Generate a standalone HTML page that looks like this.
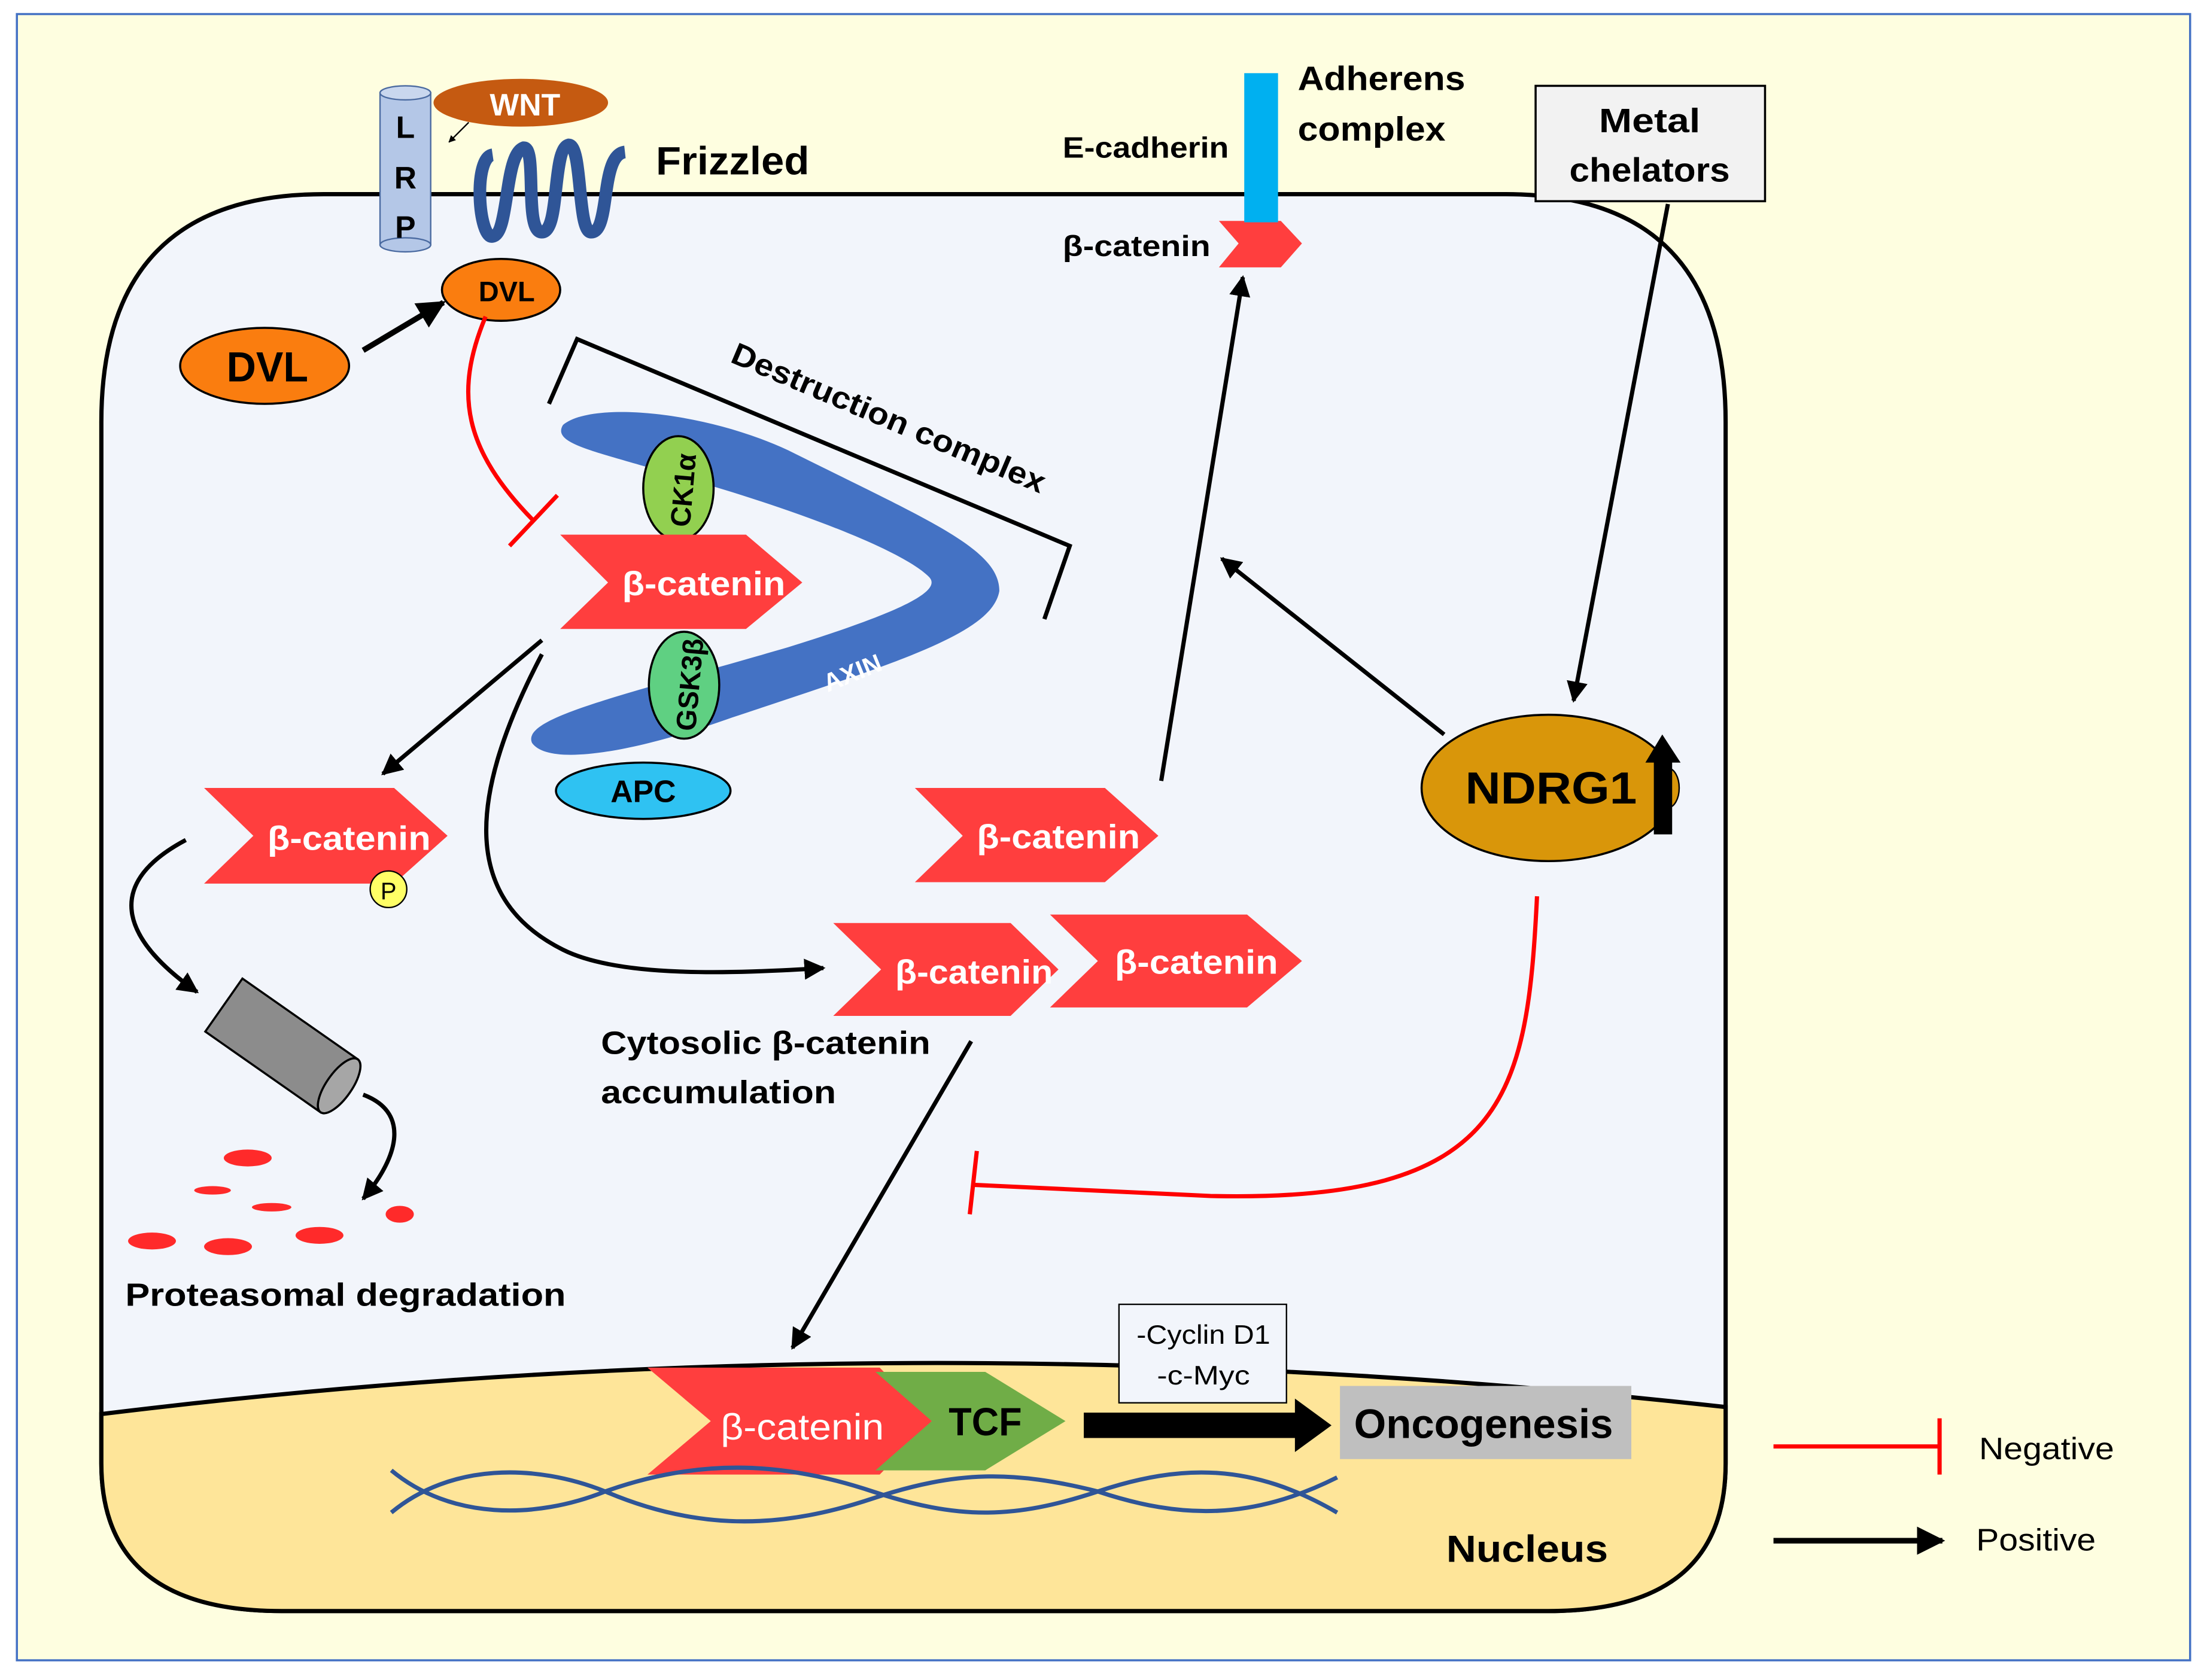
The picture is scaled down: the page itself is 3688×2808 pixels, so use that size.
<!DOCTYPE html>
<html><head><meta charset="utf-8"><style>
html,body{margin:0;padding:0;background:#fff}
svg{display:block}
text{font-family:"Liberation Sans",sans-serif;font-weight:bold}
text.n{font-weight:normal}
</style></head><body>
<svg width="3688" height="2808" viewBox="0 0 1568 1194" preserveAspectRatio="none" xmlns="http://www.w3.org/2000/svg">
<defs>
<marker id="ah" viewBox="0 0 10 10" refX="9" refY="5" markerWidth="5" markerHeight="5" orient="auto-start-reverse"><path d="M0,0L10,5L0,10z" fill="#000"/></marker>
</defs>
<rect x="0" y="0" width="1568" height="1194" fill="#fff"/>
<rect x="12" y="10" width="1544" height="1170" fill="#fefee0" stroke="#4472c4" stroke-width="1.5"/>
<path d="M72,1000 L72,300 Q72,138 230,138 L1070,138 Q1226,138 1226,300 L1226,1000 L1226,1040 Q1226,1145 1100,1145 L200,1145 Q72,1145 72,1040 Z" fill="#f2f5fb" stroke="#000" stroke-width="3"/>
<path d="M72,1005 Q640,935 1226,1000 L1226,1040 Q1226,1145 1100,1145 L200,1145 Q72,1145 72,1040 Z" fill="#fee599" stroke="#000" stroke-width="3"/>
<rect x="270" y="66" width="36" height="108" fill="#b4c7e7" stroke="#4a6aa0" stroke-width="1"/>
<ellipse cx="288" cy="66" rx="18" ry="5" fill="#c9d7ee" stroke="#4a6aa0"/>
<ellipse cx="288" cy="174" rx="18" ry="5" fill="#b4c7e7" stroke="#4a6aa0"/>
<text x="288" y="98" font-size="22" text-anchor="middle">L</text>
<text x="288" y="134" font-size="22" text-anchor="middle">R</text>
<text x="288" y="169" font-size="22" text-anchor="middle">P</text>
<ellipse cx="370" cy="73" rx="62" ry="17" fill="#c55a11"/>
<text x="373" y="82" font-size="22" fill="#fff" text-anchor="middle">WNT</text>
<line x1="333" y1="87" x2="319" y2="101" stroke="#000" stroke-width="1" marker-end="url(#ah)"/>
<path d="M350,110 C336,112 340,170 350,168 C362,166 358,110 372,105 C382,104 372,165 385,165 C398,165 392,106 404,103 C414,103 410,165 420,165 C434,165 426,110 444,108" fill="none" stroke="#2f5597" stroke-width="9"/>
<text x="466" y="124" font-size="28" textLength="109" lengthAdjust="spacingAndGlyphs">Frizzled</text>
<ellipse cx="356" cy="206" rx="42" ry="22" fill="#fa7d0f" stroke="#000" stroke-width="1.5"/>
<text x="360" y="214" font-size="20" text-anchor="middle">DVL</text>
<ellipse cx="188" cy="260" rx="60" ry="27" fill="#fa7d0f" stroke="#000" stroke-width="1.5"/>
<text x="190" y="271" font-size="30" text-anchor="middle" textLength="58" lengthAdjust="spacingAndGlyphs">DVL</text>
<line x1="258" y1="249" x2="315" y2="215" stroke="#000" stroke-width="4" marker-end="url(#ah)"/>
<path d="M345,225 C322,280 330,320 379,370" fill="none" stroke="#f00" stroke-width="3"/>
<line x1="362" y1="388" x2="396" y2="352" stroke="#f00" stroke-width="3"/>
<path d="M390,287 L410,241 L760,388 L742,440" fill="none" stroke="#000" stroke-width="3"/>
<text x="0" y="0" font-size="22" textLength="240" lengthAdjust="spacingAndGlyphs" transform="translate(518,257) rotate(23)">Destruction complex</text>
<path d="M400,302 C420,285 500,292 560,320 C660,370 710,390 710,420 C705,450 640,470 520,510 C450,535 390,545 378,528 C370,510 440,495 560,460 C640,435 670,420 660,410 C640,390 560,360 470,335 C420,320 392,315 400,302 Z" fill="#4472c4"/>
<text x="0" y="0" font-size="18" fill="#fff" transform="translate(588,492) rotate(-22)">AXIN</text>
<ellipse cx="482" cy="347" rx="25" ry="37" fill="#92d050" stroke="#000" stroke-width="1.5"/>
<text x="0" y="0" font-size="20" transform="translate(490,375) rotate(-85)">CK1α</text>
<ellipse cx="486" cy="487" rx="25" ry="38" fill="#5fd082" stroke="#000" stroke-width="1.5"/>
<text x="0" y="0" font-size="20" textLength="66" lengthAdjust="spacingAndGlyphs" transform="translate(494,520) rotate(-85)">GSK3β</text>
<ellipse cx="457" cy="562" rx="62" ry="20" fill="#2fc2f2" stroke="#000" stroke-width="1.5"/>
<text x="457" y="570" font-size="22" text-anchor="middle">APC</text>
<g fill="#ff3e3e">
<polygon points="398,380 530,380 570,414 530,447 398,447 432,414"/>
<polygon points="145,560 280,560 318,594 280,628 145,628 180,594"/>
<polygon points="650,560 785,560 823,594 785,627 650,627 684,594"/>
<polygon points="592,656 718,656 752,689 718,722 592,722 626,689"/>
<polygon points="746,650 886,650 925,683 886,716 746,716 780,683"/>
<polygon points="866,157 910,157 925,173 910,190 866,190 880,173"/>
<polygon points="460,972 625,972 662,1010 625,1048 460,1048 505,1010"/>
</g>
<polygon points="622,975 700,975 757,1010 700,1045 622,1045 662,1010" fill="#70ad47"/>
<g fill="#fff" font-size="24" text-anchor="middle">
<text x="500" y="423" textLength="116" lengthAdjust="spacingAndGlyphs">β-catenin</text>
<text x="248" y="604" textLength="116" lengthAdjust="spacingAndGlyphs">β-catenin</text>
<text x="752" y="603" textLength="116" lengthAdjust="spacingAndGlyphs">β-catenin</text>
<text x="692" y="699" textLength="112" lengthAdjust="spacingAndGlyphs">β-catenin</text>
<text x="850" y="692" textLength="116" lengthAdjust="spacingAndGlyphs">β-catenin</text>
<text class="n" x="570" y="1023" font-size="26" textLength="116" lengthAdjust="spacingAndGlyphs">β-catenin</text>
</g>
<text x="700" y="1020" font-size="28" text-anchor="middle" textLength="52" lengthAdjust="spacingAndGlyphs">TCF</text>
<circle cx="276" cy="632" r="13" fill="#ffff66" stroke="#000" stroke-width="1"/>
<text class="n" x="276" y="639" font-size="17" text-anchor="middle">P</text>
<line x1="385" y1="455" x2="272" y2="550" stroke="#000" stroke-width="3" marker-end="url(#ah)"/>
<path d="M385,465 C330,570 330,640 400,675 C440,695 520,692 585,688" fill="none" stroke="#000" stroke-width="3" marker-end="url(#ah)"/>
<path d="M132,597 C70,630 90,670 140,705" fill="none" stroke="#000" stroke-width="3" marker-end="url(#ah)"/>
<g transform="translate(200,743) rotate(35)">
<rect x="-50" y="-23" width="100" height="46" fill="#8c8c8c" stroke="#000" stroke-width="1.5"/>
<ellipse cx="50" cy="0" rx="9" ry="23" fill="#a6a6a6" stroke="#000" stroke-width="1.5"/>
</g>
<path d="M258,778 C290,790 285,820 258,852" fill="none" stroke="#000" stroke-width="3" marker-end="url(#ah)"/>
<g fill="#ff2a2a">
<ellipse cx="176" cy="823" rx="17" ry="6"/><ellipse cx="151" cy="846" rx="13" ry="3"/>
<ellipse cx="193" cy="858" rx="14" ry="3"/><ellipse cx="284" cy="863" rx="10" ry="6"/>
<ellipse cx="108" cy="882" rx="17" ry="6"/><ellipse cx="162" cy="886" rx="17" ry="6"/>
<ellipse cx="227" cy="878" rx="17" ry="6"/>
</g>
<text x="89" y="928" font-size="23" textLength="313" lengthAdjust="spacingAndGlyphs">Proteasomal degradation</text>
<text x="427" y="749" font-size="23" textLength="234" lengthAdjust="spacingAndGlyphs">Cytosolic β-catenin</text>
<text x="427" y="784" font-size="23" textLength="167" lengthAdjust="spacingAndGlyphs">accumulation</text>
<line x1="690" y1="740" x2="563" y2="958" stroke="#000" stroke-width="3" marker-end="url(#ah)"/>
<line x1="825" y1="555" x2="883" y2="197" stroke="#000" stroke-width="3" marker-end="url(#ah)"/>
<rect x="884" y="52" width="24" height="106" fill="#00b0f0"/>
<text x="755" y="112" font-size="21" textLength="118" lengthAdjust="spacingAndGlyphs">E-cadherin</text>
<text x="755" y="182" font-size="21" textLength="105" lengthAdjust="spacingAndGlyphs">β-catenin</text>
<text x="922" y="64" font-size="24" textLength="119" lengthAdjust="spacingAndGlyphs">Adherens</text>
<text x="922" y="100" font-size="24" textLength="105" lengthAdjust="spacingAndGlyphs">complex</text>
<rect x="1091" y="61" width="163" height="82" fill="#f2f2f2" stroke="#000" stroke-width="1.5"/>
<text x="1172" y="94" font-size="24" text-anchor="middle" textLength="72" lengthAdjust="spacingAndGlyphs">Metal</text>
<text x="1172" y="129" font-size="24" text-anchor="middle" textLength="114" lengthAdjust="spacingAndGlyphs">chelators</text>
<line x1="1185" y1="145" x2="1118" y2="498" stroke="#000" stroke-width="3" marker-end="url(#ah)"/>
<ellipse cx="1100" cy="560" rx="90" ry="52" fill="#d9960a" stroke="#000" stroke-width="1.5"/>
<ellipse cx="1185" cy="560" rx="8" ry="14" fill="#d9960a" stroke="#000" stroke-width="1"/>
<text x="1102" y="571" font-size="32" text-anchor="middle" textLength="122" lengthAdjust="spacingAndGlyphs">NDRG1</text>
<rect x="1175" y="540" width="13" height="53" fill="#000"/>
<polygon points="1169,542 1194,542 1181,522" fill="#000"/>
<line x1="1026" y1="522" x2="868" y2="397" stroke="#000" stroke-width="3" marker-end="url(#ah)"/>
<path d="M1092,637 C1085,780 1070,855 860,850 L690,842" fill="none" stroke="#f00" stroke-width="3"/>
<line x1="694" y1="818" x2="689" y2="863" stroke="#f00" stroke-width="3"/>
<path d="M278,1075 C320,1040 380,1040 430,1060 C500,1090 560,1085 620,1065 C680,1045 720,1045 780,1060 C840,1080 890,1080 950,1050" fill="none" stroke="#2f5597" stroke-width="3"/>
<path d="M278,1045 C320,1080 380,1080 430,1060 C500,1035 560,1040 620,1060 C680,1080 720,1080 780,1060 C840,1040 890,1040 950,1075" fill="none" stroke="#2f5597" stroke-width="3"/>
<rect x="795" y="927" width="119" height="70" fill="#f2f5fb" stroke="#000" stroke-width="1"/>
<text class="n" x="855" y="955" font-size="19" text-anchor="middle" textLength="95" lengthAdjust="spacingAndGlyphs">-Cyclin D1</text>
<text class="n" x="855" y="984" font-size="19" text-anchor="middle" textLength="66" lengthAdjust="spacingAndGlyphs">-c-Myc</text>
<polygon points="770,1004 920,1004 920,994 946,1013 920,1032 920,1022 770,1022" fill="#000"/>
<rect x="952" y="985" width="207" height="52" fill="#bfbfbf"/>
<text x="1054" y="1022" font-size="29" text-anchor="middle" textLength="184" lengthAdjust="spacingAndGlyphs">Oncogenesis</text>
<text x="1085" y="1110" font-size="27" text-anchor="middle" textLength="115" lengthAdjust="spacingAndGlyphs">Nucleus</text>
<line x1="1260" y1="1028" x2="1378" y2="1028" stroke="#f00" stroke-width="3"/>
<line x1="1378" y1="1008" x2="1378" y2="1048" stroke="#f00" stroke-width="3"/>
<text class="n" x="1406" y="1037" font-size="22" textLength="96" lengthAdjust="spacingAndGlyphs">Negative</text>
<line x1="1260" y1="1095" x2="1380" y2="1095" stroke="#000" stroke-width="4" marker-end="url(#ah)"/>
<text class="n" x="1404" y="1102" font-size="22" textLength="85" lengthAdjust="spacingAndGlyphs">Positive</text>
</svg>
</body></html>
